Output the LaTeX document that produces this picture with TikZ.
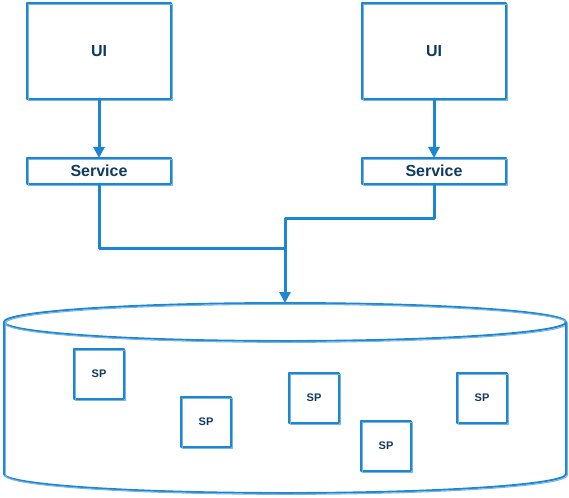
\documentclass[tikz,border=0pt]{standalone}
\usepackage{fontspec}
\setmainfont{Liberation Sans}
\usetikzlibrary{arrows.meta}

\definecolor{skblue}{HTML}{1C86D2}
\definecolor{sktext}{HTML}{0F3A5F}

\begin{document}
\begin{tikzpicture}[x=1pt, y=-1pt, line join=round, line cap=round,
  sketch/.style = {draw=skblue, line width=1.9pt,
    postaction={draw=skblue!60, line width=1.1pt, transform canvas={shift={(1.3pt,-1.3pt)}}}},
  uibox/.style = {sketch, minimum width=144pt, minimum height=96pt, inner sep=0pt, outer sep=0pt,
    text=sktext, font=\bfseries\fontsize{16}{18}\selectfont},
  svcbox/.style = {sketch, minimum width=144pt, minimum height=26pt, inner sep=0pt, outer sep=0pt,
    text=sktext, font=\bfseries\fontsize{16}{18}\selectfont},
  spbox/.style = {sketch, minimum width=50pt, minimum height=50pt, inner sep=0pt, outer sep=0pt,
    text=sktext, font=\bfseries\fontsize{11}{13}\selectfont},
  link/.style = {draw=skblue, line width=3pt},
  arr/.style = {link, -{Triangle[width=11pt, length=11pt]}}]
\useasboundingbox (0,0) rectangle (569,497);

% database
\draw[sketch] (4,322) arc[start angle=180, end angle=360, x radius=281, y radius=19]
  arc[start angle=0, end angle=180, x radius=281, y radius=19];
\draw[sketch] (4,322) -- (4,474) arc[start angle=180, end angle=0, x radius=281, y radius=19] -- (566,322);
\coordinate (dbtop) at (285,303);

% front ends
\node[uibox] (uiL) at (99,51) {UI};
\node[uibox] (uiR) at (434,51) {UI};
\node[svcbox] (svcL) at (99,171) {Service};
\node[svcbox] (svcR) at (434,171) {Service};

% stored procedures
\node[spbox] (sp1) at (99,374) {SP};
\node[spbox] (sp2) at (206,422) {SP};
\node[spbox] (sp3) at (314,398) {SP};
\node[spbox] (sp4) at (386,446) {SP};
\node[spbox] (sp5) at (482,398) {SP};

% connectors
\coordinate (bendR) at (285,218);
\coordinate (joinL) at (285,248);
\draw[arr] (uiL) -- (svcL);
\draw[arr] (uiR) -- (svcR);
\draw[link] (svcL) |- (joinL);
\draw[arr] (svcR) |- (bendR) -- (dbtop);
\end{tikzpicture}
\end{document}
